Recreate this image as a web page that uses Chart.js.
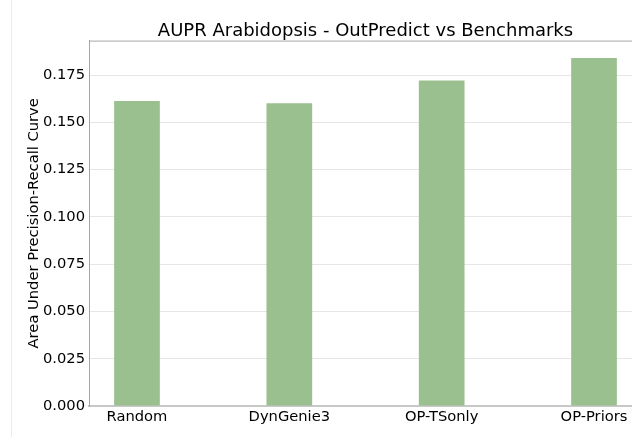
<!DOCTYPE html>
<html>
<head>
<meta charset="utf-8">
<script src="https://cdn.jsdelivr.net/npm/chart.js@4"></script>
<style>
  html, body { margin: 0; padding: 0; background: #fff; overflow: hidden; }
  #wrap { position: relative; width: 632px; height: 437px; overflow: hidden; }
  #frame { position: absolute; left: 11px; top: 0; width: 0; height: 437px; border-left: 1px solid #ececec; }
  #aupr { position: absolute; left: 0; top: 0; }
</style>
</head>
<body>
<div id="wrap">
  <div id="frame"></div>
  <canvas id="aupr" width="645" height="437"></canvas>
</div>
<script>
const categories = ["Random", "DynGenie3", "OP-TSonly", "OP-Priors"];
const aupr = [0.1613, 0.1601, 0.1721, 0.1840];
const yTicks = [0, 0.025, 0.05, 0.075, 0.1, 0.125, 0.15, 0.175];

Chart.defaults.font.family = "'DejaVu Sans', sans-serif";
Chart.defaults.color = "#111";

// top spine of the axes box
const topSpine = {
  id: "topSpine",
  afterDraw(chart) {
    const { ctx, chartArea } = chart;
    ctx.save();
    ctx.strokeStyle = "#a6a6a6";
    ctx.lineWidth = 1;
    ctx.beginPath();
    ctx.moveTo(chartArea.left, chartArea.top + 0.5);
    ctx.lineTo(chartArea.right, chartArea.top + 0.5);
    ctx.stroke();
    ctx.restore();
  },
};

const chart = new Chart(document.getElementById("aupr"), {
  type: "bar",
  data: {
    datasets: [
      {
        label: "AUPR",
        backgroundColor: "#9bc08f",
        borderWidth: 0,
        barPercentage: 0.3,
        categoryPercentage: 1,
        data: aupr.map((v, i) => ({ x: i, y: v })),
      },
    ],
  },
  options: {
    responsive: false,
    animation: false,
    layout: { padding: { top: 0, right: 3, bottom: 0, left: 0 } },
    plugins: {
      legend: { display: false },
      tooltip: { enabled: false },
      title: {
        display: true,
        fullSize: false,
        text: "AUPR Arabidopsis - OutPredict vs Benchmarks",
        color: "#000",
        font: { size: 18, weight: "normal" },
        padding: { top: 21, bottom: -2 },
      },
    },
    scales: {
      x: {
        type: "linear",
        offset: false,
        min: -0.315,
        max: 3.315,
        afterBuildTicks(scale) {
          scale.ticks = categories.map((c, i) => ({ value: i }));
        },
        afterFit(scale) {
          scale.height = 31;
        },
        ticks: {
          padding: 2,
          font: { size: 14.7 },
          color: "#000",
          maxRotation: 0,
          autoSkip: false,
          callback: (v) => categories[v],
        },
        grid: { display: false, drawTicks: false },
        border: { color: "#c8c8c8", width: 2 },
      },
      y: {
        min: 0,
        max: 0.1932,
        afterBuildTicks(scale) {
          scale.ticks = yTicks.map((v) => ({ value: v }));
        },
        afterFit(scale) {
          scale.width = 89;
        },
        ticks: {
          padding: 4,
          font: { size: 14.7 },
          color: "#000",
          callback: (v) => v.toFixed(3),
        },
        grid: { color: "#e6e6e6", lineWidth: 1, drawTicks: false },
        border: { color: "#a6a6a6", width: 1 },
        title: {
          display: true,
          text: "Area Under Precision-Recall Curve",
          color: "#000",
          font: { size: 14.7 },
          padding: { top: 25, bottom: 0 },
        },
      },
    },
  },
  plugins: [topSpine],
});
</script>
</body>
</html>
